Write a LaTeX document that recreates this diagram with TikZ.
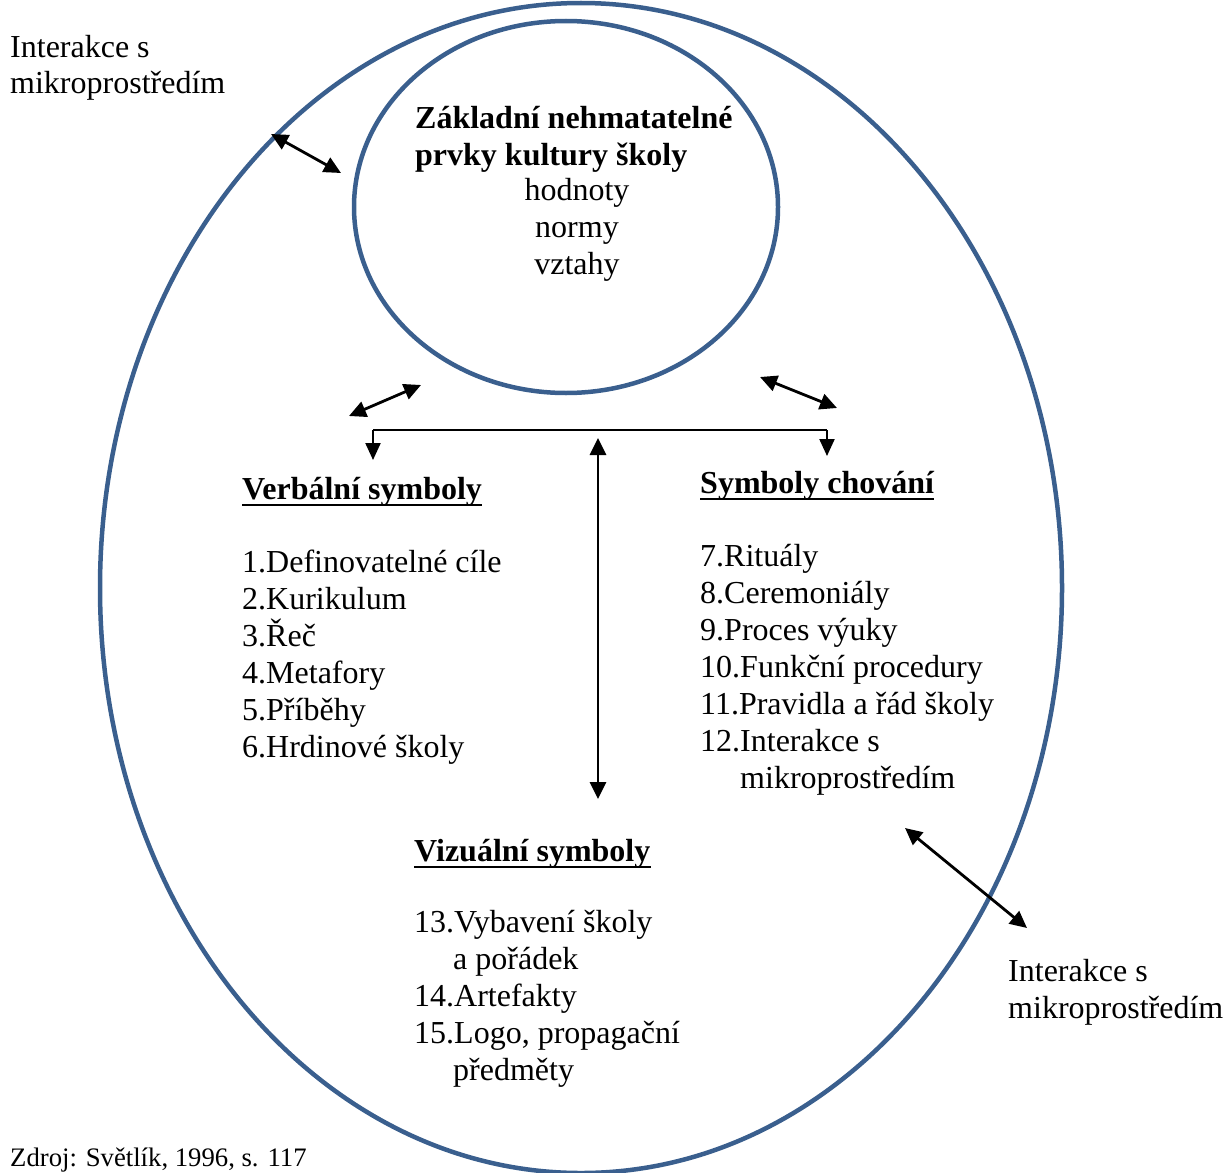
\documentclass[tikz,border=0pt]{standalone}
\usepackage{fontspec}
\setmainfont{Liberation Serif}
\usetikzlibrary{arrows.meta,shapes.geometric}
\definecolor{ringblue}{HTML}{3A5F8E}
\begin{document}
\begin{tikzpicture}[x=1pt,y=-1pt,
  ring/.style={ellipse, draw=ringblue, line width=4.5pt, inner sep=0pt, outer sep=0pt},
  txt/.style={anchor=base west, inner sep=0pt, font=\fontsize{32}{37}\selectfont},
  ctxt/.style={anchor=base, inner sep=0pt, font=\fontsize{32}{37}\selectfont},
  head/.style={anchor=base west, inner sep=0pt, font=\fontsize{32}{37}\selectfont\bfseries},
  small/.style={anchor=base west, inner sep=0pt, font=\fontsize{26.7}{31}\selectfont},
  biarrow/.style={{Triangle[length=17pt,width=16pt]}-{Triangle[length=17pt,width=16pt]}, line width=2.8pt},
  downarrow/.style={-{Triangle[length=17pt,width=15pt]}, line width=2.2pt},
  uline/.style={line width=2.8pt}
]
\useasboundingbox (0,0) rectangle (1225,1172);

% ellipses
\node[ring, minimum width=962pt, minimum height=1170pt] (outer) at (581,588) {};
\node[ring, minimum width=424pt, minimum height=372pt] (core) at (566,207) {};

% top-left label
\node[txt] (tl1) at (10,57) {Interakce s};
\node[txt] (tl2) at (10,93) {mikroprostředím};

% core text
\node[head] (k1) at (415,128) {Základní nehmatatelné};
\node[head] (k2) at (415,165) {prvky kultury školy};
\node[ctxt] (k3) at (577,200) {hodnoty};
\node[ctxt] (k4) at (577,237) {normy};
\node[ctxt] (k5) at (577,274) {vztahy};

% verbal symbols
\node[head] (vh) at (242,499) {Verbální symboly};
\draw[uline] ([yshift=-6pt]vh.base west) -- ([yshift=-6pt]vh.base east);
\node[txt] (v1) at (242,572) {1.Definovatelné cíle};
\node[txt] (v2) at (242,609) {2.Kurikulum};
\node[txt] (v3) at (242,646) {3.Řeč};
\node[txt] (v4) at (242,683) {4.Metafory};
\node[txt] (v5) at (242,720) {5.Příběhy};
\node[txt] (v6) at (242,757) {6.Hrdinové školy};

% behaviour symbols
\node[head] (bh) at (700,493) {Symboly chování};
\draw[uline] ([yshift=-6pt]bh.base west) -- ([yshift=-6pt]bh.base east);
\node[txt] (b7) at (700,566) {7.Rituály};
\node[txt] (b8) at (700,603) {8.Ceremoniály};
\node[txt] (b9) at (700,640) {9.Proces výuky};
\node[txt] (b10) at (700,677) {10.Funkční procedury};
\node[txt] (b11) at (700,714) {11.Pravidla a řád školy};
\node[txt] (b12) at (700,751) {12.Interakce s};
\node[txt] (b12b) at (740,788) {mikroprostředím};

% visual symbols
\node[head] (zh) at (414,861) {Vizuální symboly};
\draw[uline] ([yshift=-6pt]zh.base west) -- ([yshift=-6pt]zh.base east);
\node[txt] (z13) at (414,932) {13.Vybavení školy};
\node[txt] (z13b) at (453,969) {a pořádek};
\node[txt] (z14) at (414,1006) {14.Artefakty};
\node[txt] (z15) at (414,1043) {15.Logo, propagační};
\node[txt] (z15b) at (453,1080) {předměty};

% bottom-right label
\node[txt] (br1) at (1008,981) {Interakce s};
\node[txt] (br2) at (1008,1018) {mikroprostředím};

% source
\node[small] (src) at (10,1166) {Zdroj: Světlík, 1996, s. 117};

% arrow end points
\coordinate (a1s) at (271,134);  \coordinate (a1e) at (341,173);
\coordinate (a2s) at (349,416);  \coordinate (a2e) at (421,385);
\coordinate (a3s) at (760,377);  \coordinate (a3e) at (837,408);
\coordinate (a4s) at (598,438);  \coordinate (a4e) at (598,799);
\coordinate (a5s) at (905,828);  \coordinate (a5e) at (1027,928);
\coordinate (hl) at (373,430);   \coordinate (hr) at (827,430);
\coordinate (dl) at (373,460);   \coordinate (dr) at (827,456);

\draw[biarrow] (a1s) -- (a1e);
\draw[biarrow] (a2s) -- (a2e);
\draw[biarrow] (a3s) -- (a3e);
\draw[biarrow] (a4s) -- (a4e);
\draw[biarrow] (a5s) -- (a5e);
\draw[line width=2.2pt] (hl) -- (hr);
\draw[downarrow] (hl) -- (dl);
\draw[downarrow] (hr) -- (dr);
\end{tikzpicture}
\end{document}
